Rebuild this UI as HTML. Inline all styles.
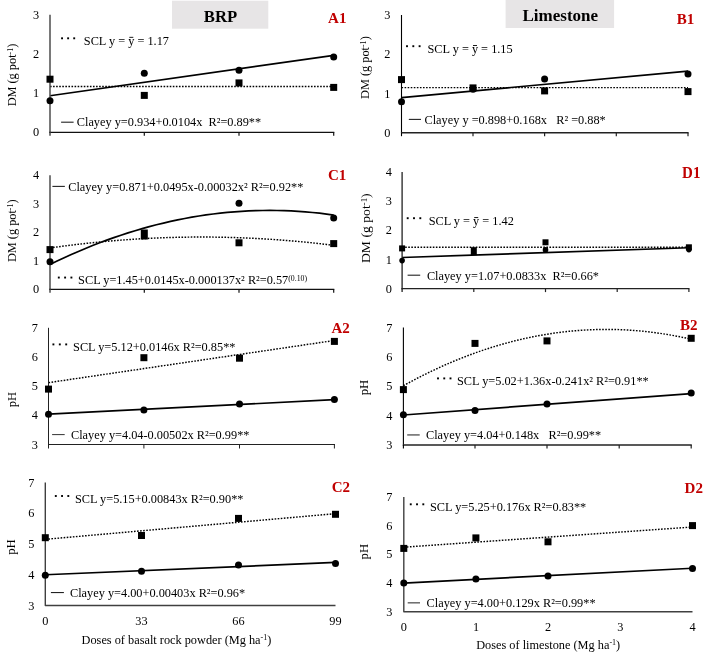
<!DOCTYPE html>
<html><head><meta charset="utf-8"><title>Figure</title>
<style>
html,body{margin:0;padding:0;background:#fff}
svg{display:block;font-family:"Liberation Serif",serif}
text{white-space:pre}
svg{will-change:transform}
</style></head><body>
<svg width="717" height="655" viewBox="0 0 717 655">
<rect width="717" height="655" fill="#fff"/>
<rect x="172" y="0.7" width="96.3" height="28" fill="#e7e5e6"/>
<text x="220.5" y="22.1" font-size="16.7" text-anchor="middle" font-weight="bold" fill="#000" >BRP</text>
<rect x="505.6" y="0" width="108.5" height="28" fill="#e7e5e6"/>
<text x="560.3" y="21.4" font-size="17" text-anchor="middle" font-weight="bold" fill="#000" >Limestone</text>
<text x="39.2" y="136.4" font-size="12.3" text-anchor="end" font-weight="normal" fill="#000" >0</text>
<text x="39.2" y="97.23" font-size="12.3" text-anchor="end" font-weight="normal" fill="#000" >1</text>
<text x="39.2" y="58.07" font-size="12.3" text-anchor="end" font-weight="normal" fill="#000" >2</text>
<text x="39.2" y="18.9" font-size="12.3" text-anchor="end" font-weight="normal" fill="#000" >3</text>
<path d="M50.0 86.48L333.7 86.48" fill="none" stroke="#000" stroke-width="1.45" stroke-dasharray="1.6 1.47"/>
<path d="M50.0 95.72L333.7 55.39" fill="none" stroke="#000" stroke-width="1.7"/>
<path d="M50 14.8V132.95" fill="none" stroke="#4d4d4d" stroke-width="1.5"/>
<path d="M49.25 132.3H334.3" fill="none" stroke="#111" stroke-width="1.3"/>
<path d="M50 132.3V135.7" stroke="#4d4d4d" stroke-width="1.5"/>
<path d="M144.3 132.3V135.7" stroke="#111" stroke-width="1.2"/>
<path d="M239 132.3V135.7" stroke="#111" stroke-width="1.2"/>
<path d="M333.7 132.3V135.7" stroke="#111" stroke-width="1.2"/>
<rect x="46.5" y="75.7" width="7" height="7" fill="#000"/>
<rect x="140.8" y="91.9" width="7" height="7" fill="#000"/>
<rect x="235.5" y="79.4" width="7" height="7" fill="#000"/>
<rect x="330.2" y="83.9" width="7" height="7" fill="#000"/>
<circle cx="50" cy="100.8" r="3.5" fill="#000"/>
<circle cx="144.3" cy="73.3" r="3.5" fill="#000"/>
<circle cx="239" cy="70.3" r="3.5" fill="#000"/>
<circle cx="333.7" cy="57" r="3.5" fill="#000"/>
<rect x="61.1" y="37.35" width="1.9" height="1.9" fill="#000"/>
<rect x="67.17" y="37.35" width="1.9" height="1.9" fill="#000"/>
<rect x="73.25" y="37.35" width="1.9" height="1.9" fill="#000"/>
<text x="83.8" y="44.6" font-size="12.3" text-anchor="start" font-weight="normal" fill="#000" >SCL y = y = 1.17</text>
<rect x="129.3" y="36.85" width="4" height="0.9" fill="#000"/>
<path d="M61.1 122.2H73.6" stroke="#222" stroke-width="1.1"/>
<text x="76.8" y="126.4" font-size="12.3" text-anchor="start" font-weight="normal" fill="#000" >Clayey y=0.934+0.0104x  R²=0.89**</text>
<text transform="translate(328.1 22.6) scale(1 1)" font-size="15" font-weight="bold" fill="#c00000">A1</text>
<text transform="translate(16 75) rotate(-90) scale(1 1)" font-size="12.3" text-anchor="middle">DM (g pot<tspan dy="-3.2" font-size="8">-1</tspan><tspan dy="3.2" font-size="0.1"> </tspan>)</text>
<text x="390.5" y="136.9" font-size="12.3" text-anchor="end" font-weight="normal" fill="#000" >0</text>
<text x="390.5" y="97.63" font-size="12.3" text-anchor="end" font-weight="normal" fill="#000" >1</text>
<text x="390.5" y="58.37" font-size="12.3" text-anchor="end" font-weight="normal" fill="#000" >2</text>
<text x="390.5" y="19.1" font-size="12.3" text-anchor="end" font-weight="normal" fill="#000" >3</text>
<path d="M401.5 87.64L688.0 87.64" fill="none" stroke="#000" stroke-width="1.45" stroke-dasharray="1.6 1.47"/>
<path d="M401.5 97.54L688.0 71.15" fill="none" stroke="#000" stroke-width="1.7"/>
<path d="M401.5 15V133.55" fill="none" stroke="#000" stroke-width="1.1"/>
<path d="M400.95 132.8H688.6" fill="none" stroke="#222" stroke-width="1.5"/>
<path d="M401.5 132.8V136.2" stroke="#000" stroke-width="1.1"/>
<path d="M473 132.8V136.2" stroke="#222" stroke-width="1.2"/>
<path d="M544.6 132.8V136.2" stroke="#222" stroke-width="1.2"/>
<path d="M616.3 132.8V136.2" stroke="#222" stroke-width="1.2"/>
<path d="M688 132.8V136.2" stroke="#222" stroke-width="1.2"/>
<rect x="398.0" y="76.1" width="7" height="7" fill="#000"/>
<rect x="469.5" y="84.4" width="7" height="7" fill="#000"/>
<rect x="541.1" y="87.4" width="7" height="7" fill="#000"/>
<rect x="684.5" y="88.1" width="7" height="7" fill="#000"/>
<circle cx="401.5" cy="101.7" r="3.5" fill="#000"/>
<circle cx="473" cy="89.3" r="3.5" fill="#000"/>
<circle cx="544.6" cy="79.1" r="3.5" fill="#000"/>
<circle cx="688" cy="74.1" r="3.5" fill="#000"/>
<rect x="406.05" y="45.25" width="1.9" height="1.9" fill="#000"/>
<rect x="412.35" y="45.25" width="1.9" height="1.9" fill="#000"/>
<rect x="418.65" y="45.25" width="1.9" height="1.9" fill="#000"/>
<text x="427.5" y="52.8" font-size="12.3" text-anchor="start" font-weight="normal" fill="#000" >SCL y = y = 1.15</text>
<rect x="473.0" y="45.05" width="4" height="0.9" fill="#000"/>
<path d="M408.8 119.4H421" stroke="#222" stroke-width="1.1"/>
<text x="424.5" y="123.9" font-size="12.3" text-anchor="start" font-weight="normal" fill="#000" >Clayey y =0.898+0.168x   R² =0.88*</text>
<text transform="translate(676.8 23.9) scale(1 1)" font-size="15" font-weight="bold" fill="#c00000">B1</text>
<text transform="translate(368.8 67.6) rotate(-90) scale(1 1)" font-size="12.3" text-anchor="middle">DM (g pot<tspan dy="-3.2" font-size="8">-1</tspan><tspan dy="3.2" font-size="0.1"> </tspan>)</text>
<text x="39.2" y="293.4" font-size="12.3" text-anchor="end" font-weight="normal" fill="#000" >0</text>
<text x="39.2" y="264.9" font-size="12.3" text-anchor="end" font-weight="normal" fill="#000" >1</text>
<text x="39.2" y="236.4" font-size="12.3" text-anchor="end" font-weight="normal" fill="#000" >2</text>
<text x="39.2" y="207.9" font-size="12.3" text-anchor="end" font-weight="normal" fill="#000" >3</text>
<text x="39.2" y="179.4" font-size="12.3" text-anchor="end" font-weight="normal" fill="#000" >4</text>
<path d="M50.0 247.98L57.09 246.98L64.19 246.03L71.28 245.12L78.37 244.27L85.46 243.46L92.56 242.7L99.65 241.99L106.74 241.32L113.83 240.71L120.92 240.14L128.02 239.62L135.11 239.15L142.2 238.72L149.3 238.34L156.39 238.01L163.48 237.73L170.57 237.5L177.66 237.31L184.76 237.18L191.85 237.09L198.94 237.04L206.03 237.05L213.13 237.1L220.22 237.2L227.31 237.35L234.4 237.55L241.5 237.8L248.59 238.09L255.68 238.43L262.77 238.82L269.87 239.25L276.96 239.74L284.05 240.27L291.14 240.85L298.24 241.48L305.33 242.15L312.42 242.87L319.51 243.65L326.61 244.46L333.7 245.33" fill="none" stroke="#000" stroke-width="1.45" stroke-dasharray="1.6 1.47"/>
<path d="M50.0 264.48L57.09 261.04L64.19 257.72L71.28 254.51L78.37 251.41L85.46 248.43L92.56 245.56L99.65 242.8L106.74 240.15L113.83 237.62L120.92 235.2L128.02 232.89L135.11 230.7L142.2 228.62L149.3 226.65L156.39 224.79L163.48 223.05L170.57 221.42L177.66 219.9L184.76 218.49L191.85 217.2L198.94 216.02L206.03 214.95L213.13 214.0L220.22 213.16L227.31 212.43L234.4 211.81L241.5 211.31L248.59 210.92L255.68 210.64L262.77 210.48L269.87 210.43L276.96 210.49L284.05 210.66L291.14 210.95L298.24 211.35L305.33 211.86L312.42 212.48L319.51 213.22L326.61 214.07L333.7 215.04" fill="none" stroke="#000" stroke-width="1.7"/>
<path d="M50 175.3V289.95" fill="none" stroke="#4d4d4d" stroke-width="1.5"/>
<path d="M49.25 289.3H334.3" fill="none" stroke="#111" stroke-width="1.3"/>
<path d="M50 289.3V292.7" stroke="#4d4d4d" stroke-width="1.5"/>
<path d="M144.3 289.3V292.7" stroke="#111" stroke-width="1.2"/>
<path d="M239 289.3V292.7" stroke="#111" stroke-width="1.2"/>
<path d="M333.7 289.3V292.7" stroke="#111" stroke-width="1.2"/>
<rect x="46.5" y="246.1" width="7" height="7" fill="#000"/>
<rect x="140.8" y="229.5" width="7" height="10" fill="#000"/>
<rect x="235.5" y="239.3" width="7" height="7" fill="#000"/>
<rect x="330.2" y="240.1" width="7" height="7" fill="#000"/>
<circle cx="50" cy="261.7" r="3.5" fill="#000"/>
<circle cx="239" cy="203.2" r="3.5" fill="#000"/>
<circle cx="333.7" cy="218" r="3.5" fill="#000"/>
<path d="M52.4 186.4H64.85" stroke="#222" stroke-width="1.1"/>
<text x="68.2" y="190.8" font-size="12.3" text-anchor="start" font-weight="normal" fill="#000" >Clayey y=0.871+0.0495x-0.00032x² R²=0.92**</text>
<rect x="57.85" y="276.6" width="1.9" height="1.9" fill="#000"/>
<rect x="64.15" y="276.6" width="1.9" height="1.9" fill="#000"/>
<rect x="70.45" y="276.6" width="1.9" height="1.9" fill="#000"/>
<text x="78.1" y="283.6" font-size="12.3" text-anchor="start" font-weight="normal" fill="#000" >SCL y=1.45+0.0145x-0.000137x² R²=0.57<tspan dy="-2.8" font-size="7.8">(0.10)</tspan><tspan dy="2.8" font-size="0.1"> </tspan></text>
<text transform="translate(328.0 180.0) scale(1 1)" font-size="15" font-weight="bold" fill="#c00000">C1</text>
<text transform="translate(16 230.7) rotate(-90) scale(1 1)" font-size="12.3" text-anchor="middle">DM (g pot<tspan dy="-3.2" font-size="8">-1</tspan><tspan dy="3.2" font-size="0.1"> </tspan>)</text>
<text x="391.8" y="292.8" font-size="12.3" text-anchor="end" font-weight="normal" fill="#000" >0</text>
<text x="391.8" y="263.62" font-size="12.3" text-anchor="end" font-weight="normal" fill="#000" >1</text>
<text x="391.8" y="234.45" font-size="12.3" text-anchor="end" font-weight="normal" fill="#000" >2</text>
<text x="391.8" y="205.28" font-size="12.3" text-anchor="end" font-weight="normal" fill="#000" >3</text>
<text x="391.8" y="176.1" font-size="12.3" text-anchor="end" font-weight="normal" fill="#000" >4</text>
<path d="M402.1 247.27L688.9 247.27" fill="none" stroke="#000" stroke-width="1.45" stroke-dasharray="1.6 1.47"/>
<path d="M402.1 257.48L688.9 247.76" fill="none" stroke="#000" stroke-width="1.7"/>
<path d="M402.1 172V289.35" fill="none" stroke="#222" stroke-width="1.3"/>
<path d="M401.45 288.7H689.5" fill="none" stroke="#222" stroke-width="1.3"/>
<path d="M402.1 288.7V292.1" stroke="#222" stroke-width="1.3"/>
<path d="M473.8 288.7V292.1" stroke="#222" stroke-width="1.2"/>
<path d="M545.5 288.7V292.1" stroke="#222" stroke-width="1.2"/>
<path d="M617.2 288.7V292.1" stroke="#222" stroke-width="1.2"/>
<path d="M688.9 288.7V292.1" stroke="#222" stroke-width="1.2"/>
<rect x="399.1" y="245.4" width="6" height="6" fill="#000"/>
<rect x="470.8" y="247.2" width="6" height="8" fill="#000"/>
<rect x="542.5" y="239.3" width="6" height="6" fill="#000"/>
<rect x="685.9" y="244.3" width="6" height="6" fill="#000"/>
<circle cx="402.1" cy="260.6" r="2.8" fill="#000"/>
<circle cx="545.5" cy="249.9" r="2.8" fill="#000"/>
<circle cx="688.9" cy="249.6" r="2.8" fill="#000"/>
<rect x="406.75" y="217.25" width="1.9" height="1.9" fill="#000"/>
<rect x="413.05" y="217.25" width="1.9" height="1.9" fill="#000"/>
<rect x="419.35" y="217.25" width="1.9" height="1.9" fill="#000"/>
<text x="428.7" y="224.9" font-size="12.3" text-anchor="start" font-weight="normal" fill="#000" >SCL y = y = 1.42</text>
<rect x="474.2" y="217.15" width="4" height="0.9" fill="#000"/>
<path d="M407.6 275.2H420.2" stroke="#222" stroke-width="1.1"/>
<text x="426.9" y="279.7" font-size="12.3" text-anchor="start" font-weight="normal" fill="#000" >Clayey y=1.07+0.0833x  R²=0.66*</text>
<text transform="translate(682.1 177.6) scale(1 1.09)" font-size="15" font-weight="bold" fill="#c00000">D1</text>
<text transform="translate(369.8 228.2) rotate(-90) scale(1.105 1)" font-size="12.4" text-anchor="middle">DM (g pot<tspan dy="-3.2" font-size="8">-1</tspan><tspan dy="3.2" font-size="0.1"> </tspan>)</text>
<text x="37.8" y="448.6" font-size="12.3" text-anchor="end" font-weight="normal" fill="#000" >3</text>
<text x="37.8" y="419.43" font-size="12.3" text-anchor="end" font-weight="normal" fill="#000" >4</text>
<text x="37.8" y="390.25" font-size="12.3" text-anchor="end" font-weight="normal" fill="#000" >5</text>
<text x="37.8" y="361.08" font-size="12.3" text-anchor="end" font-weight="normal" fill="#000" >6</text>
<text x="37.8" y="331.9" font-size="12.3" text-anchor="end" font-weight="normal" fill="#000" >7</text>
<path d="M48.5 382.65L334.4 340.48" fill="none" stroke="#000" stroke-width="1.45" stroke-dasharray="1.6 1.47"/>
<path d="M48.5 414.16L334.4 399.66" fill="none" stroke="#000" stroke-width="1.7"/>
<path d="M48.5 327.8V445.0" fill="none" stroke="#222" stroke-width="1.0"/>
<path d="M48.0 444.5H335.0" fill="none" stroke="#222" stroke-width="1.0"/>
<path d="M48.5 444.5V448.5" stroke="#222" stroke-width="1.0"/>
<path d="M143.9 444.5V448.5" stroke="#222" stroke-width="1"/>
<path d="M239.5 444.5V448.5" stroke="#222" stroke-width="1"/>
<path d="M334.4 444.5V448.5" stroke="#222" stroke-width="1"/>
<rect x="45.0" y="385.6" width="7" height="7" fill="#000"/>
<rect x="140.4" y="354.2" width="7" height="7" fill="#000"/>
<rect x="236.0" y="354.7" width="7" height="7" fill="#000"/>
<rect x="330.9" y="337.9" width="7" height="7" fill="#000"/>
<circle cx="48.5" cy="414.2" r="3.5" fill="#000"/>
<circle cx="143.9" cy="409.9" r="3.5" fill="#000"/>
<circle cx="239.5" cy="404.1" r="3.5" fill="#000"/>
<circle cx="334.4" cy="399.6" r="3.5" fill="#000"/>
<rect x="52.45" y="343.45" width="1.9" height="1.9" fill="#000"/>
<rect x="58.85" y="343.45" width="1.9" height="1.9" fill="#000"/>
<rect x="65.25" y="343.45" width="1.9" height="1.9" fill="#000"/>
<text x="73.05" y="350.5" font-size="12.3" text-anchor="start" font-weight="normal" fill="#000" >SCL y=5.12+0.0146x R²=0.85**</text>
<path d="M52.1 434.6H64.7" stroke="#333" stroke-width="1.0"/>
<text x="71" y="439.3" font-size="12.3" text-anchor="start" font-weight="normal" fill="#000" >Clayey y=4.04-0.00502x R²=0.99**</text>
<text transform="translate(331.4 332.6) scale(1 1)" font-size="15" font-weight="bold" fill="#c00000">A2</text>
<text transform="translate(16 399.5) rotate(-90) scale(1 1)" font-size="12.5" text-anchor="middle">pH</text>
<text x="392.5" y="449.1" font-size="12.3" text-anchor="end" font-weight="normal" fill="#000" >3</text>
<text x="392.5" y="419.75" font-size="12.3" text-anchor="end" font-weight="normal" fill="#000" >4</text>
<text x="392.5" y="390.4" font-size="12.3" text-anchor="end" font-weight="normal" fill="#000" >5</text>
<text x="392.5" y="361.05" font-size="12.3" text-anchor="end" font-weight="normal" fill="#000" >6</text>
<text x="392.5" y="331.7" font-size="12.3" text-anchor="end" font-weight="normal" fill="#000" >7</text>
<path d="M403.4 385.71L410.59 381.79L417.79 378.01L424.98 374.37L432.18 370.88L439.38 367.52L446.57 364.31L453.76 361.24L460.96 358.31L468.15 355.52L475.35 352.87L482.55 350.36L489.74 348.0L496.94 345.78L504.13 343.69L511.32 341.75L518.52 339.96L525.72 338.3L532.91 336.78L540.11 335.41L547.3 334.17L554.5 333.08L561.69 332.13L568.88 331.32L576.08 330.66L583.28 330.13L590.47 329.75L597.67 329.5L604.86 329.4L612.06 329.44L619.25 329.63L626.45 329.95L633.64 330.41L640.84 331.02L648.03 331.77L655.23 332.66L662.42 333.69L669.62 334.86L676.81 336.17L684.01 337.63L691.2 339.22" fill="none" stroke="#000" stroke-width="1.45" stroke-dasharray="1.6 1.47"/>
<path d="M403.4 415L691.2 393.6" fill="none" stroke="#000" stroke-width="1.7"/>
<path d="M403.4 327.6V445.7" fill="none" stroke="#000" stroke-width="1.1"/>
<path d="M402.85 445H691.8" fill="none" stroke="#222" stroke-width="1.4"/>
<path d="M403.4 445V448.4" stroke="#000" stroke-width="1.1"/>
<path d="M475 445V448.4" stroke="#222" stroke-width="1.2"/>
<path d="M547 445V448.4" stroke="#222" stroke-width="1.2"/>
<path d="M619.2 445V448.4" stroke="#222" stroke-width="1.2"/>
<path d="M691.2 445V448.4" stroke="#222" stroke-width="1.2"/>
<rect x="399.9" y="386.1" width="7" height="7" fill="#000"/>
<rect x="471.5" y="339.9" width="7" height="7" fill="#000"/>
<rect x="543.5" y="337.4" width="7" height="7" fill="#000"/>
<rect x="687.7" y="334.8" width="7" height="7" fill="#000"/>
<circle cx="403.4" cy="414.7" r="3.5" fill="#000"/>
<circle cx="475" cy="410.4" r="3.5" fill="#000"/>
<circle cx="547" cy="404.1" r="3.5" fill="#000"/>
<circle cx="691.2" cy="393.1" r="3.5" fill="#000"/>
<rect x="437.05" y="377.45" width="1.9" height="1.9" fill="#000"/>
<rect x="443.3" y="377.45" width="1.9" height="1.9" fill="#000"/>
<rect x="449.55" y="377.45" width="1.9" height="1.9" fill="#000"/>
<text x="457" y="384.8" font-size="12.3" text-anchor="start" font-weight="normal" fill="#000" >SCL y=5.02+1.36x-0.241x² R²=0.91**</text>
<path d="M407.2 434.9H419.7" stroke="#7f7f7f" stroke-width="1.8"/>
<text x="426" y="439.2" font-size="12.3" text-anchor="start" font-weight="normal" fill="#000" >Clayey y=4.04+0.148x   R²=0.99**</text>
<text transform="translate(680.1 329.6) scale(1 1)" font-size="15" font-weight="bold" fill="#c00000">B2</text>
<text transform="translate(367.9 387.5) rotate(-90) scale(1 1)" font-size="12.8" text-anchor="middle">pH</text>
<text x="34.5" y="609.6" font-size="12.3" text-anchor="end" font-weight="normal" fill="#000" >3</text>
<text x="34.5" y="578.83" font-size="12.3" text-anchor="end" font-weight="normal" fill="#000" >4</text>
<text x="34.5" y="548.05" font-size="12.3" text-anchor="end" font-weight="normal" fill="#000" >5</text>
<text x="34.5" y="517.27" font-size="12.3" text-anchor="end" font-weight="normal" fill="#000" >6</text>
<text x="34.5" y="486.5" font-size="12.3" text-anchor="end" font-weight="normal" fill="#000" >7</text>
<path d="M45.3 539.33L335.5 513.65" fill="none" stroke="#000" stroke-width="1.45" stroke-dasharray="1.6 1.47"/>
<path d="M45.3 574.73L335.5 562.45" fill="none" stroke="#000" stroke-width="1.7"/>
<path d="M45.3 482.4V605.5H335.5" fill="none" stroke="#404040" stroke-width="1.4" stroke-linejoin="round"/>
<rect x="41.8" y="534.2" width="7" height="7" fill="#000"/>
<rect x="138.0" y="532.0" width="7" height="7" fill="#000"/>
<rect x="235.0" y="514.9" width="7" height="7" fill="#000"/>
<rect x="332.0" y="510.8" width="7" height="7" fill="#000"/>
<circle cx="45.3" cy="575.3" r="3.5" fill="#000"/>
<circle cx="141.5" cy="571.2" r="3.5" fill="#000"/>
<circle cx="238.5" cy="564.9" r="3.5" fill="#000"/>
<circle cx="335.5" cy="563.5" r="3.5" fill="#000"/>
<rect x="54.85" y="495.05" width="1.9" height="1.9" fill="#000"/>
<rect x="61.1" y="495.05" width="1.9" height="1.9" fill="#000"/>
<rect x="67.35" y="495.05" width="1.9" height="1.9" fill="#000"/>
<text x="74.9" y="502.7" font-size="12.3" text-anchor="start" font-weight="normal" fill="#000" >SCL y=5.15+0.00843x R²=0.90**</text>
<path d="M50.9 592.55H63.9" stroke="#222" stroke-width="1.1"/>
<text x="70" y="596.8" font-size="12.3" text-anchor="start" font-weight="normal" fill="#000" >Clayey y=4.00+0.00403x R²=0.96*</text>
<text transform="translate(331.7 492) scale(1 1)" font-size="15" font-weight="bold" fill="#c00000">C2</text>
<text transform="translate(15.1 547) rotate(-90) scale(1 1)" font-size="12.8" text-anchor="middle">pH</text>
<text x="392.5" y="615.85" font-size="12.3" text-anchor="end" font-weight="normal" fill="#000" >3</text>
<text x="392.5" y="587.16" font-size="12.3" text-anchor="end" font-weight="normal" fill="#000" >4</text>
<text x="392.5" y="558.48" font-size="12.3" text-anchor="end" font-weight="normal" fill="#000" >5</text>
<text x="392.5" y="529.79" font-size="12.3" text-anchor="end" font-weight="normal" fill="#000" >6</text>
<text x="392.5" y="501.1" font-size="12.3" text-anchor="end" font-weight="normal" fill="#000" >7</text>
<path d="M403.8 547.2L692.5 527.01" fill="none" stroke="#000" stroke-width="1.45" stroke-dasharray="1.6 1.47"/>
<path d="M403.8 583.06L692.5 568.26" fill="none" stroke="#000" stroke-width="1.7"/>
<path d="M403.8 497V611.75H692.5" fill="none" stroke="#404040" stroke-width="1.4" stroke-linejoin="round"/>
<rect x="400.3" y="544.9" width="7" height="7" fill="#000"/>
<rect x="472.4" y="534.4" width="7" height="7" fill="#000"/>
<rect x="544.5" y="538.3" width="7" height="7" fill="#000"/>
<rect x="689.0" y="522.1" width="7" height="7" fill="#000"/>
<circle cx="403.8" cy="583" r="3.5" fill="#000"/>
<circle cx="475.9" cy="578.9" r="3.5" fill="#000"/>
<circle cx="548" cy="576.1" r="3.5" fill="#000"/>
<circle cx="692.5" cy="568.4" r="3.5" fill="#000"/>
<rect x="409.8" y="503.35" width="1.9" height="1.9" fill="#000"/>
<rect x="416.07" y="503.35" width="1.9" height="1.9" fill="#000"/>
<rect x="422.35" y="503.35" width="1.9" height="1.9" fill="#000"/>
<text x="430" y="510.8" font-size="12.3" text-anchor="start" font-weight="normal" fill="#000" >SCL y=5.25+0.176x R²=0.83**</text>
<path d="M407.7 602.8H420" stroke="#6a6a6a" stroke-width="1.5"/>
<text x="426.6" y="607.3" font-size="12.3" text-anchor="start" font-weight="normal" fill="#000" >Clayey y=4.00+0.129x R²=0.99**</text>
<text transform="translate(684.6 492.9) scale(1 1)" font-size="15" font-weight="bold" fill="#c00000">D2</text>
<text transform="translate(367.9 551.7) rotate(-90) scale(1 1)" font-size="12.7" text-anchor="middle">pH</text>
<text x="45.3" y="624.8" font-size="12.3" text-anchor="middle" font-weight="normal" fill="#000" >0</text>
<text x="141.5" y="624.8" font-size="12.3" text-anchor="middle" font-weight="normal" fill="#000" >33</text>
<text x="238.5" y="624.8" font-size="12.3" text-anchor="middle" font-weight="normal" fill="#000" >66</text>
<text x="335.5" y="624.8" font-size="12.3" text-anchor="middle" font-weight="normal" fill="#000" >99</text>
<text x="403.9" y="630.9" font-size="12.3" text-anchor="middle" font-weight="normal" fill="#000" >0</text>
<text x="476" y="630.9" font-size="12.3" text-anchor="middle" font-weight="normal" fill="#000" >1</text>
<text x="548.2" y="630.9" font-size="12.3" text-anchor="middle" font-weight="normal" fill="#000" >2</text>
<text x="620.4" y="630.9" font-size="12.3" text-anchor="middle" font-weight="normal" fill="#000" >3</text>
<text x="692.6" y="630.9" font-size="12.3" text-anchor="middle" font-weight="normal" fill="#000" >4</text>
<text x="81.6" y="644" font-size="12.3" text-anchor="start" font-weight="normal" fill="#000" >Doses of basalt rock powder (Mg ha<tspan dy="-3.8" font-size="8">-1</tspan><tspan dy="3.8" font-size="0.1"> </tspan>)</text>
<text x="476.2" y="649" font-size="12.3" text-anchor="start" font-weight="normal" fill="#000" >Doses of limestone (Mg ha<tspan dy="-3.8" font-size="8">-1</tspan><tspan dy="3.8" font-size="0.1"> </tspan>)</text>
</svg>
</body></html>
